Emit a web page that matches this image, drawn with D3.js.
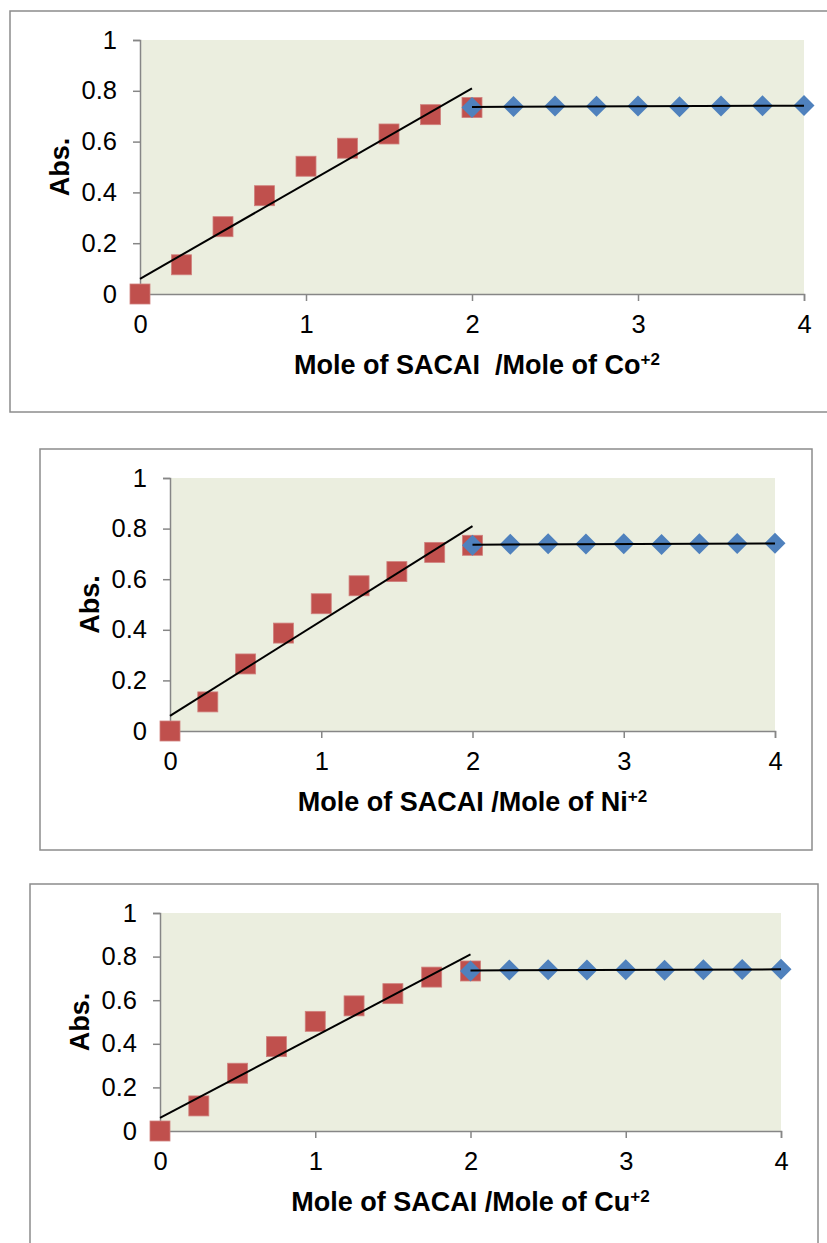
<!DOCTYPE html>
<html>
<head>
<meta charset="utf-8">
<script src="https://cdn.jsdelivr.net/npm/d3@7"></script>
<style>
  html, body { margin: 0; padding: 0; background: #ffffff; }
  svg { display: block; font-family: "Liberation Sans", Arial, sans-serif; }
</style>
</head>
<body>
<svg id="chart" width="827" height="1243"></svg>
<script>
// ---- data ----
const xRed = [0, 0.25, 0.5, 0.75, 1, 1.25, 1.5, 1.75, 2];
const yRed = [0, 0.115, 0.265, 0.387, 0.503, 0.574, 0.630, 0.706, 0.734];
const xBlue = [2, 2.25, 2.5, 2.75, 3, 3.25, 3.5, 3.75, 4];
const yBlue = [0.734, 0.738, 0.740, 0.739, 0.740, 0.737, 0.740, 0.741, 0.742];
const xTicks = [0, 1, 2, 3, 4];
const yTicks = [0, 0.2, 0.4, 0.6, 0.8, 1];
const metals = ["Co", "Ni", "Cu"];
const titlePrefix = ["Mole of SACAI\u00A0\u00A0/Mole of ", "Mole of SACAI /Mole of ", "Mole of SACAI /Mole of "];
const yTitle = "Abs.";

// ---- layout (pixels) ----
const panels = [
  { box: [10, 11, 840, 412], plot: [140, 40, 804, 294], tdx: 5 },
  { box: [40, 449, 812, 850], plot: [170, 478, 775, 731], tdx: 0 },
  { box: [30, 884, 818, 1260], plot: [160, 913, 781, 1131], tdx: 0 }
];

const svg = d3.select("#chart");
const axisGray = "#868686";
const fs = 25.5;
const fsTitle = 27;

function fit(xs, ys) {
  const n = xs.length;
  const mx = d3.mean(xs), my = d3.mean(ys);
  let sxy = 0, sxx = 0;
  for (let i = 0; i < n; i++) { sxy += (xs[i] - mx) * (ys[i] - my); sxx += (xs[i] - mx) ** 2; }
  const b = sxy / sxx;
  return { a: my - b * mx, b };
}

panels.forEach((p, i) => {
  const g = svg.append("g");
  const [bx0, by0, bx1, by1] = p.box;
  g.append("rect").attr("x", bx0).attr("y", by0).attr("width", bx1 - bx0).attr("height", by1 - by0)
    .attr("fill", "#fff").attr("stroke", "#8c8c8c").attr("stroke-width", 1.5);

  const [L, T, R, B] = p.plot;
  const x = d3.scaleLinear().domain([0, 4]).range([L, R]);
  const y = d3.scaleLinear().domain([0, 1]).range([B, T]);

  g.append("rect").attr("x", L).attr("y", T).attr("width", R - L).attr("height", B - T).attr("fill", "#EBEEDF");

  const yAxis = g.append("g").attr("transform", `translate(${L},0)`)
    .call(d3.axisLeft(y).tickValues(yTicks).tickSize(7).tickPadding(16).tickFormat(d => String(d)));
  const xAxis = g.append("g").attr("transform", `translate(0,${B})`)
    .call(d3.axisBottom(x).tickValues(xTicks).tickSize(7).tickPadding(14).tickFormat(d => String(d)));
  [yAxis, xAxis].forEach(a => {
    a.select(".domain").attr("stroke", axisGray).attr("stroke-width", 1.5);
    a.selectAll(".tick line").attr("stroke", axisGray).attr("stroke-width", 1.5);
    a.selectAll(".tick text").attr("fill", "#000").style("font-size", fs + "px")
      .style("font-family", "'Liberation Sans', Arial, sans-serif");
  });

  // red squares
  const s = 20;
  g.append("g").selectAll("rect").data(xRed.map((d, k) => [d, yRed[k]])).join("rect")
    .attr("x", d => x(d[0]) - s / 2).attr("y", d => y(d[1]) - s / 2)
    .attr("width", s).attr("height", s)
    .attr("fill", "#C0504D").attr("stroke", "#D0807D").attr("stroke-width", 0.8);

  // blue diamonds
  const h = 10.5;
  g.append("g").selectAll("path").data(xBlue.map((d, k) => [d, yBlue[k]])).join("path")
    .attr("d", d => {
      const cx = x(d[0]), cy = y(d[1]);
      return `M${cx},${cy - h}L${cx + h},${cy}L${cx},${cy + h}L${cx - h},${cy}Z`;
    })
    .attr("fill", "#4F81BD");

  // trend lines
  const fr = fit(xRed, yRed), fb = fit(xBlue, yBlue);
  const line = d3.line().x(d => x(d[0])).y(d => y(d[1]));
  g.append("path").attr("d", line([[0, fr.a], [2, fr.a + 2 * fr.b]]))
    .attr("stroke", "#000").attr("stroke-width", 2).attr("fill", "none");
  g.append("path").attr("d", line([[2, fb.a + 2 * fb.b], [4, fb.a + 4 * fb.b]]))
    .attr("stroke", "#000").attr("stroke-width", 2).attr("fill", "none");

  // y title
  g.append("text").attr("transform", `translate(${L - 71},${(T + B) / 2}) rotate(-90)`)
    .attr("text-anchor", "middle").style("font-size", fsTitle + "px").style("font-weight", "bold")
    .text(yTitle);

  // x title
  const t = g.append("text").attr("x", (L + R) / 2 + p.tdx).attr("y", B + 80)
    .attr("text-anchor", "middle").style("font-size", fsTitle + "px").style("font-weight", "bold");
  t.append("tspan").text(titlePrefix[i] + metals[i]);
  t.append("tspan").attr("dy", -9).style("font-size", "17px").text("+2");
});
</script>
</body>
</html>
